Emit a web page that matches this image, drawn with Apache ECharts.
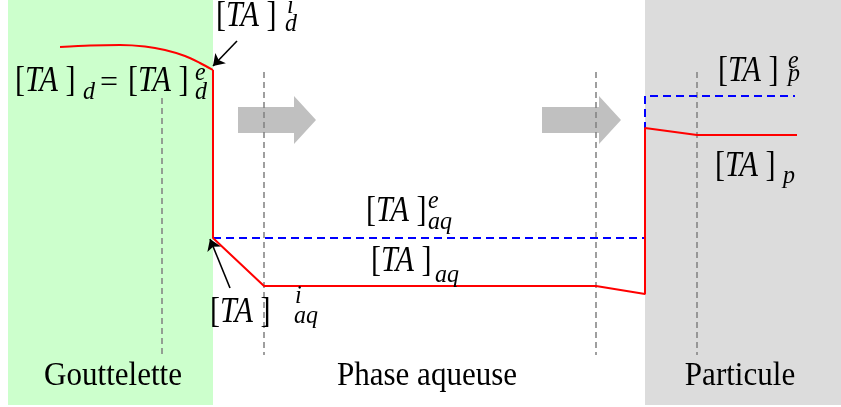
<!DOCTYPE html>
<html><head><meta charset="utf-8">
<script src="https://cdn.jsdelivr.net/npm/echarts@6/dist/echarts.min.js"></script>
<style>html,body{margin:0;padding:0;background:#fff}#c{width:841px;height:407px}</style>
</head><body><div id="c"></div>
<script>
// ---- data (in diagram units) ----
const regionNames = ['Gouttelette', 'Particule'];
const regionX = [[8, 213], [645, 841]];
const regionY = [0, 405];
const redCurve = [[60, 47], [90, 45.5], [120, 45], [145, 46.5], [165, 50], [185, 56], [200, 63], [213, 70]];
const redProfile = [[213, 70], [213, 238], [264, 286], [596, 286], [645, 294], [645, 128], [697, 135], [797, 135]];
const blueAq = [[213, 238], [645, 238]];
const blueP = [[645, 143], [645, 96], [795, 96]];
const guideX = [162, 264, 596, 697];
const guideTop = [98, 72, 72, 72];
const guideBottom = 355;
const flowStart = [238, 542];
const flowTip = [316, 621];
const flowY = 120;
const pointerFrom = [[237, 41], [230, 288]];
const pointerTo = [[213, 66], [210, 239]];
const phaseLabels = ['Gouttelette', 'Phase aqueuse', 'Particule'];
const phaseLabelX = [113, 427, 740];
const phaseLabelY = 388;
// concentration labels: [x, baseline], superscript, subscript
const concMain = [[15, 94], [128, 94], [216, 29], [366, 224], [371, 274], [210, 325], [718, 84], [715, 179]];
const concSup = [null, ['e', 195, 82], ['i', 287, 15], ['e', 428, 210], null, ['i', 295, 305], ['e', 788, 70], null];
const concSub = [['d', 83, 101], ['d', 195, 101], ['d', 285, 33], ['aq', 428, 231], ['aq', 435, 284], ['aq', 294, 325], ['p', 788, 83], ['p', 783, 185]];
const equalsSign = ['=', 100, 94];

// ---- chart ----
const FONT = '"Liberation Serif", "Times New Roman", serif';
const chart = echarts.init(document.getElementById('c'), null, {renderer: 'canvas'});
const regionColors = ['#ccffcc', '#dcdcdc'];

const option = {
  animation: false,
  backgroundColor: '#ffffff',
  grid: {left: 0, right: 0, top: 0, bottom: 0, containLabel: false},
  xAxis: {type: 'value', min: 0, max: 841, show: false},
  yAxis: {type: 'value', min: 0, max: 407, inverse: true, show: false},
  series: [
    {
      type: 'custom', z: 1, silent: true,
      data: regionX.map((r, i) => [r[0], r[1], i]),
      renderItem: (params, api) => {
        const p0 = api.coord([api.value(0), regionY[0]]);
        const p1 = api.coord([api.value(1), regionY[1]]);
        return {type: 'rect', shape: {x: p0[0], y: p0[1], width: p1[0] - p0[0], height: p1[1] - p0[1]},
          style: {fill: regionColors[api.value(2)]}};
      }
    },
    {
      type: 'lines', coordinateSystem: 'cartesian2d', z: 2, silent: true,
      lineStyle: {color: '#808080', width: 1.5, type: [6, 4], opacity: 1},
      symbol: 'none',
      data: guideX.map((x, i) => ({coords: [[x, guideTop[i]], [x, guideBottom]]}))
    },
    {
      type: 'custom', z: 1.5, silent: true,
      data: flowStart.map((s, i) => [s, flowTip[i]]),
      renderItem: (params, api) => {
        const a = api.coord([api.value(0), flowY]);
        const t = api.coord([api.value(1), flowY]);
        const bh = 13, hh = 24, hl = 22;
        const hx = t[0] - hl;
        return {type: 'polygon', shape: {points: [
          [a[0], a[1] - bh], [hx, a[1] - bh], [hx, a[1] - hh], [t[0], t[1]],
          [hx, a[1] + hh], [hx, a[1] + bh], [a[0], a[1] + bh]]},
          style: {fill: '#c0c0c0'}};
      }
    },
    {
      type: 'line', z: 3, data: blueAq, symbol: 'none', silent: true,
      lineStyle: {color: '#0000ff', width: 2, type: [8, 5]}
    },
    {
      type: 'line', z: 3, data: blueP, symbol: 'none', silent: true,
      lineStyle: {color: '#0000ff', width: 2, type: [8, 5]}
    },
    {
      type: 'line', z: 4, data: redCurve, symbol: 'none', smooth: 0.3, silent: true,
      lineStyle: {color: '#ff0000', width: 2}
    },
    {
      type: 'line', z: 4, data: redProfile, symbol: 'none', silent: true,
      lineStyle: {color: '#ff0000', width: 2}
    },
    {
      type: 'lines', coordinateSystem: 'cartesian2d', z: 5, silent: true,
      symbol: ['none', 'arrow'], symbolSize: 11,
      lineStyle: {color: '#000000', width: 1.6, opacity: 1},
      data: pointerFrom.map((f, i) => ({coords: [f, pointerTo[i]]}))
    }
  ]
};
chart.setOption(option);

function px(x, y) { return chart.convertToPixel({gridIndex: 0}, [x, y]); }
const MAIN = 32, SMALL = 24, SX = 0.94, SY = 1.1;
function txt(str, x, baseline, size, italic, align, sx, sy) {
  sx = sx || 1; sy = sy || 1;
  const p = px(x, baseline);
  return {type: 'text', z: 10, x: p[0], y: p[1] - 0.34 * size * sy, scaleX: sx, scaleY: sy,
    style: {text: str, fontFamily: FONT, fontSize: size, fontStyle: italic ? 'italic' : 'normal',
      fill: '#000', align: align || 'left', verticalAlign: 'middle'}};
}
const graphics = [];
concMain.forEach((m, i) => {
  const p = px(m[0], m[1]);
  graphics.push({type: 'text', z: 10, x: p[0], y: p[1] - 0.34 * MAIN * SY, scaleX: SX, scaleY: SY,
    style: {text: '{n|[}{i|TA }{n|]}', fill: '#000', align: 'left', verticalAlign: 'middle',
      rich: {n: {fontFamily: FONT, fontSize: MAIN, fill: '#000'},
             i: {fontFamily: FONT, fontSize: MAIN, fontStyle: 'italic', fill: '#000'}}}});
  if (concSup[i]) graphics.push(txt(concSup[i][0], concSup[i][1], concSup[i][2], SMALL, true, 'left', 1, 1.05));
  if (concSub[i]) graphics.push(txt(concSub[i][0], concSub[i][1], concSub[i][2], SMALL, true, 'left', 1, 1.05));
});
graphics.push(txt(equalsSign[0], equalsSign[1], equalsSign[2], MAIN, false, 'left', 1, 1));
phaseLabels.forEach((l, i) => graphics.push(txt(l, phaseLabelX[i], phaseLabelY, 32, false, 'center', 0.97, 1.05)));
chart.setOption({graphic: graphics});
</script></body></html>
